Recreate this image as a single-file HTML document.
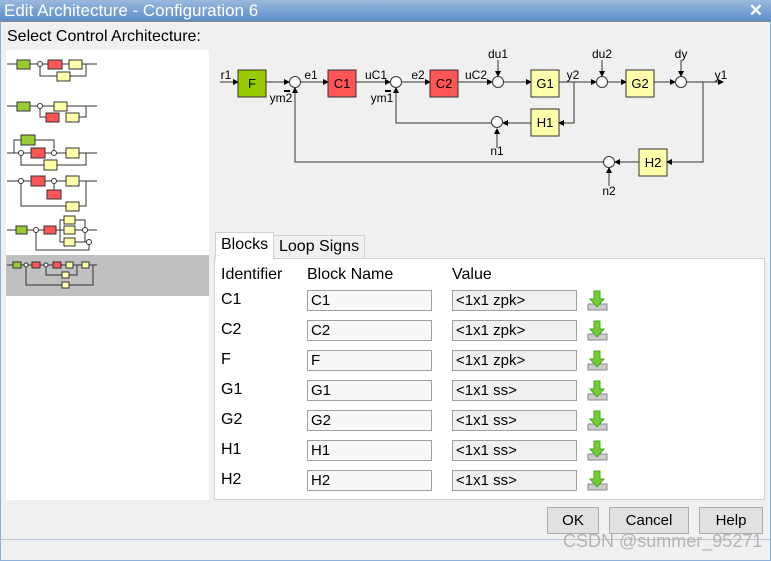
<!DOCTYPE html>
<html><head><meta charset="utf-8"><style>
*{margin:0;padding:0;box-sizing:border-box}
body{width:771px;height:561px;overflow:hidden;background:#f0f0f0;font-family:"Liberation Sans",sans-serif;position:relative}
.title{position:absolute;left:0;top:0;width:771px;height:21px;background:linear-gradient(#9bb9dc,#5b8ccb);color:#fff;font-size:17px;line-height:21px;padding-left:4px}
.frame{position:absolute;left:0;top:21px;width:771px;height:540px;border:1px solid #8fb0d6;border-top:1px solid #888}
.lab{position:absolute;font-size:16px;color:#000}
.list{position:absolute;left:6px;top:50px;width:203px;height:450px;background:#fff}
.sel{position:absolute;left:6px;top:255px;width:203px;height:41px;background:#c0c0c0}
.panel{position:absolute;left:214px;top:258px;width:551px;height:242px;background:#fff;border:1px solid #d0d0d0}
.tab{position:absolute;font-size:15px;border:1px solid #d0d0d0;border-bottom:none;padding:0 5px}
.f{position:absolute;height:21px;border:1px solid #a0a0a0;background:#f8f8f8;font-size:15px;line-height:19px;padding-left:3px}
.btn{position:absolute;top:507px;height:27px;border:1px solid #adadad;background:#e1e1e1;font-size:15px;text-align:center;line-height:25px}
</style></head><body>
<div class="title">Edit Architecture - Configuration 6<span style="position:absolute;right:8px;top:0;font-weight:bold">✕</span></div>
<div class="frame"></div>
<div style="position:absolute;left:1px;top:539px;width:769px;height:1px;background:#b8c8d6"></div>
<div class="lab" style="left:7px;top:28px">Select Control Architecture:</div>
<div class="list"></div><div class="sel"></div>
<svg style="position:absolute;left:0;top:0" width="215" height="300" stroke="#333" stroke-width="1" fill="none">
<g fill="#9c3"><rect x="17" y="60" width="13" height="9"/><rect x="17" y="102" width="13" height="9"/><rect x="21" y="135" width="14" height="10"/><rect x="16" y="226" width="11" height="8"/><rect x="13" y="262" width="8" height="6"/></g>
<g fill="#f55"><rect x="48" y="60" width="14" height="9"/><rect x="46" y="113" width="13" height="9"/><rect x="31" y="148" width="14" height="10"/><rect x="31" y="176" width="14" height="10"/><rect x="47" y="190" width="14" height="9"/><rect x="44" y="226" width="12" height="8"/><rect x="32" y="262" width="8" height="6"/><rect x="53" y="262" width="8" height="6"/></g>
<g fill="#ffa"><rect x="69" y="60" width="13" height="9"/><rect x="57" y="72" width="13" height="9"/><rect x="54" y="102" width="13" height="9"/><rect x="66" y="113" width="13" height="9"/><rect x="66" y="148" width="13" height="10"/><rect x="44" y="160" width="13" height="10"/><rect x="66" y="176" width="13" height="10"/><rect x="66" y="202" width="13" height="9"/><rect x="64" y="216" width="11" height="8"/><rect x="64" y="226" width="11" height="8"/><rect x="64" y="238" width="11" height="8"/><rect x="66" y="262" width="7" height="6"/><rect x="82" y="262" width="7" height="6"/><rect x="62" y="272" width="7" height="6"/><rect x="62" y="282" width="7" height="6"/></g>
<path d="M7 64H17M30 64H48M62 64H69M82 64H97M86 64V76H70M57 76H40V64M7 106H17M30 106H54M67 106H97M86 106V117H79M46 117H40V106M7 153H31M45 153H66M79 153H97M14 153V140H21M35 140H54V153M86 153V165H57M44 165H21V153M7 181H31M45 181H66M79 181H97M54 181V190M86 181V206H79M66 206H21V181M7 230H16M27 230H44M56 230H64M75 230H97M60 230V220H64M60 230V242H64M75 220H85V242M75 242H89M36 230V250H89V242M7 265H13M21 265H32M40 265H53M61 265H66M73 265H82M89 265H97M46 265V275H62M69 275H77V265M26 265V285H62M69 285H93V265"/>
<g fill="#fff"><circle cx="40" cy="64" r="2.5"/><circle cx="40" cy="106" r="2.5"/><circle cx="21" cy="153" r="2.5"/><circle cx="54" cy="153" r="2.5"/><circle cx="21" cy="181" r="2.5"/><circle cx="54" cy="181" r="2.5"/><circle cx="36" cy="230" r="2.5"/><circle cx="85" cy="230" r="2.5"/><circle cx="89" cy="242" r="2.5"/><circle cx="26" cy="265" r="2"/><circle cx="46" cy="265" r="2"/></g>
</svg>
<svg style="position:absolute;left:215px;top:40px" width="520" height="160" font-family="Liberation Sans,sans-serif" font-size="12" stroke="#333" fill="none">
<defs><marker id="a" markerWidth="6" markerHeight="6" refX="5" refY="3" orient="auto"><path d="M0 0L6 3L0 6Z" fill="#000" stroke="none"/></marker></defs>
<g marker-end="url(#a)">
<path d="M5 42H23"/><path d="M51 42H74"/><path d="M86 42H113"/><path d="M141 42H175"/><path d="M186 42H215"/><path d="M243 42H277"/><path d="M288 42H316"/><path d="M344 42H381"/><path d="M392 42H411"/><path d="M438 42H460"/><path d="M471 42H508"/>
<path d="M283 20V36"/><path d="M387 20V36"/><path d="M466 20V36"/>
<path d="M359 42V83H344"/><path d="M488 42V122H452"/>
<path d="M316 83H288"/><path d="M424 122H400"/>
<path d="M282 83H181V48"/><path d="M388 122H80V48"/>
<path d="M282 108V89"/><path d="M394 146V128"/>
</g>
<g stroke="#333" fill="#fff"><circle cx="80" cy="42" r="5.5"/><circle cx="181" cy="42" r="5.5"/><circle cx="283" cy="42" r="5.5"/><circle cx="387" cy="42" r="5.5"/><circle cx="466" cy="42" r="5.5"/><circle cx="282" cy="82" r="5.5"/><circle cx="394" cy="122" r="5.5"/></g>
<rect x="23" y="30" width="28" height="27" fill="#9c0"/>
<rect x="113" y="30" width="28" height="27" fill="#f55"/>
<rect x="215" y="30" width="28" height="27" fill="#f55"/>
<rect x="316" y="30" width="28" height="27" fill="#ffa"/>
<rect x="411" y="30" width="28" height="27" fill="#ffa"/>
<rect x="316" y="69" width="28" height="27" fill="#ffa"/>
<rect x="424" y="109" width="28" height="27" fill="#ffa"/>
<path d="M69 51H75M170 51H176" stroke="#000" stroke-width="2"/>
<g fill="#000" stroke="none" text-anchor="middle">
<text x="37" y="48" font-size="13">F</text><text x="127" y="48" font-size="13">C1</text><text x="229" y="48" font-size="13">C2</text><text x="330" y="48" font-size="13">G1</text><text x="425" y="48" font-size="13">G2</text><text x="330" y="87" font-size="13">H1</text><text x="438" y="127" font-size="13">H2</text>
<text x="11" y="39">r1</text><text x="96" y="39">e1</text><text x="161" y="39">uC1</text><text x="203" y="39">e2</text><text x="261" y="39">uC2</text><text x="358" y="39">y2</text><text x="506" y="39">y1</text>
<text x="66" y="62">ym2</text><text x="167" y="62">ym1</text>
<text x="283" y="18">du1</text><text x="387" y="18">du2</text><text x="466" y="18">dy</text>
<text x="282" y="115">n1</text><text x="394" y="155">n2</text>
</g></svg>
<div class="panel"></div>
<div class="tab" style="left:215px;top:232px;height:27px;background:#fff;line-height:24px;border-color:#d0d0d0;font-size:16px">Blocks</div>
<div class="tab" style="left:273px;top:235px;height:23px;background:#f0f0f0;line-height:22px;font-size:16px">Loop Signs</div>
<div class="lab" style="left:221px;top:266px">Identifier</div>
<div class="lab" style="left:307px;top:266px">Block Name</div>
<div class="lab" style="left:452px;top:266px">Value</div>
<div id="rows"></div>
<script>
var r=[["C1","<1x1 zpk>"],["C2","<1x1 zpk>"],["F","<1x1 zpk>"],["G1","<1x1 ss>"],["G2","<1x1 ss>"],["H1","<1x1 ss>"],["H2","<1x1 ss>"]],h="";
r.forEach(function(e,i){var y=290+i*30;var v=e[1].replace("<","&lt;").replace(">","&gt;");
h+='<div class="lab" style="left:221px;top:'+(y+1)+'px">'+e[0]+'</div><div class="f" style="left:307px;top:'+y+'px;width:125px">'+e[0]+'</div><div class="f" style="left:452px;top:'+y+'px;width:125px;background:#f0f0f0">'+v+'</div>'+
'<svg style="position:absolute;left:587px;top:'+(y)+'px" width="22" height="22"><rect x="1" y="14" width="19" height="6" fill="#ccc" stroke="#888"/><path d="M7 1H13V9H17L10 17L3 9H7Z" fill="#7c3" stroke="#4a2"/></svg>';});
document.getElementById("rows").innerHTML=h;
</script>
<div class="btn" style="left:547px;width:52px">OK</div>
<div class="btn" style="left:609px;width:80px">Cancel</div>
<div class="btn" style="left:699px;width:64px">Help</div>
<div style="position:absolute;left:563px;top:531px;font-size:18px;color:#b4b4b4">CSDN @summer_95271</div>
</body></html>
